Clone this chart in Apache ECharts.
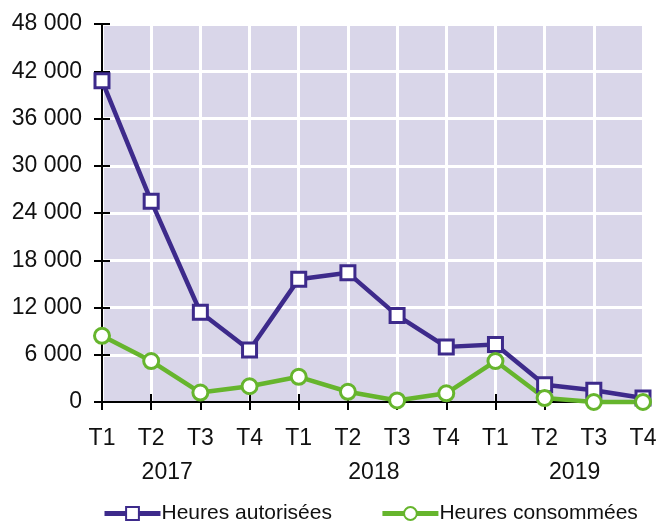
<!DOCTYPE html>
<html>
<head>
<meta charset="utf-8">
<script src="https://cdn.jsdelivr.net/npm/echarts@6/dist/echarts.min.js"></script>
<style>
    html, body { margin: 0; padding: 0; background: #fff; }
    #chart { width: 671px; height: 524px; }
</style>
</head>
<body>
<div id="chart"></div>
<script>
    // trimestres et années
    var quarters = ['T1', 'T2', 'T3', 'T4', 'T1', 'T2', 'T3', 'T4', 'T1', 'T2', 'T3', 'T4'];
    var years = ['2017', '2018', '2019'];

    // séries
    var heuresAutorisees = [40800, 25500, 11400, 6600, 15600, 16400, 11000, 7000, 7300, 2200, 1500, 500];
    var heuresConsommees = [8400, 5200, 1200, 2000, 3200, 1300, 200, 1100, 5200, 500, 0, 0];

    var yTicks = {min: 0, max: 48000, interval: 6000};

    var fontFamily = '"Liberation Sans", Arial, sans-serif';
    var purple = '#3d2a8b';
    var green = '#66b52d';

    var chart = echarts.init(document.getElementById('chart'));

    var formatThousands = function (v) {
        if (v === 0) {
            return '0';
        }
        return Math.floor(v / 1000) + ' 000';
    };

    var option = {
        backgroundColor: '#ffffff',
        animation: false,
        textStyle: {fontFamily: fontFamily},
        grid: {
            left: 102, right: 28, top: 24, bottom: 122,
            show: true, backgroundColor: '#d9d6e9', borderWidth: 0
        },
        legend: {
            bottom: 0,
            left: 102,
            padding: 0,
            itemWidth: 56,
            itemHeight: 16,
            itemGap: 48,
            lineStyle: {width: 5},
            textStyle: {fontSize: 21, color: '#111', fontFamily: fontFamily, padding: [0, 0, 0, -4]},
            data: ['Heures autorisées', 'Heures consommées']
        },
        xAxis: [{
            type: 'category',
            data: quarters,
            boundaryGap: false,
            axisLine: {lineStyle: {color: '#000', width: 2}},
            axisTick: {length: 8, lineStyle: {color: '#000', width: 2}},
            axisLabel: {color: '#111', fontSize: 23, margin: 25, interval: 0},
            splitLine: {show: true, lineStyle: {color: '#ffffff', width: 3}}
        }, {
            type: 'category',
            data: quarters,
            boundaryGap: false,
            position: 'bottom',
            axisLine: {show: false},
            axisTick: {inside: true, length: 8, lineStyle: {color: '#000', width: 2}},
            axisLabel: {show: false},
            splitLine: {show: false}
        }, {
            type: 'category',
            data: quarters,
            boundaryGap: false,
            position: 'bottom',
            axisLine: {show: false},
            axisTick: {show: false},
            axisLabel: {
                color: '#111', fontSize: 23, margin: 59,
                interval: function (i) { return i % 4 === 1; },
                formatter: function (v, i) {
                    var k = Math.floor(i / 4);
                    return '{y' + k + '|' + years[k] + '}';
                },
                rich: {
                    y0: {fontSize: 23, padding: [0, 0, 0, 32]},
                    y1: {fontSize: 23, padding: [0, 0, 0, 52]},
                    y2: {fontSize: 23, padding: [0, 0, 0, 60]}
                }
            },
            splitLine: {show: false}
        }],
        yAxis: [{
            type: 'value',
            min: yTicks.min, max: yTicks.max, interval: yTicks.interval,
            axisLine: {show: true, lineStyle: {color: '#000', width: 2}},
            axisTick: {show: true, length: 8, lineStyle: {color: '#000', width: 2}},
            axisLabel: {color: '#111', fontSize: 23, margin: 20, formatter: formatThousands},
            splitLine: {show: true, lineStyle: {color: '#ffffff', width: 3}}
        }, {
            type: 'value',
            position: 'left',
            min: yTicks.min, max: yTicks.max, interval: yTicks.interval,
            axisLine: {show: false},
            axisTick: {show: true, inside: true, length: 8, lineStyle: {color: '#000', width: 2}},
            axisLabel: {show: false},
            splitLine: {show: false}
        }],
        series: [{
            name: 'Heures autorisées',
            type: 'line',
            data: heuresAutorisees,
            symbol: 'rect',
            symbolSize: 14,
            clip: false,
            lineStyle: {color: purple, width: 4.5},
            itemStyle: {color: '#ffffff', borderColor: purple, borderWidth: 3}
        }, {
            name: 'Heures consommées',
            type: 'line',
            data: heuresConsommees,
            symbol: 'circle',
            symbolSize: 15,
            clip: false,
            lineStyle: {color: green, width: 4.5},
            itemStyle: {color: '#ffffff', borderColor: green, borderWidth: 3}
        }]
    };

    chart.setOption(option);
</script>
</body>
</html>
